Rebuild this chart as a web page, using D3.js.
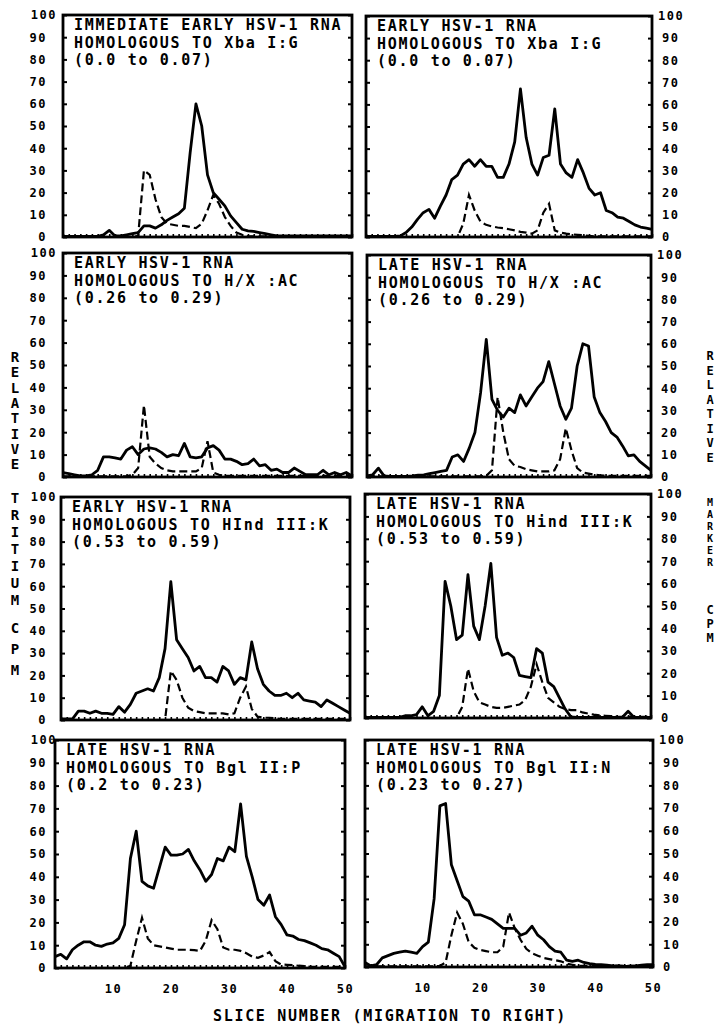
<!DOCTYPE html>
<html>
<head>
<meta charset="utf-8">
<script src="https://cdnjs.cloudflare.com/ajax/libs/d3/7.8.5/d3.min.js"></script>
<style>
  body { margin: 0; background: #fff; }
  text { font-family: "DejaVu Sans Mono", monospace; font-weight: bold; fill: #000; }
</style>
</head>
<body>
<svg id="chart" width="720" height="1030"></svg>
<script>
// slice numbers 0..50 and tick values
const slices = d3.range(0, 51);
const yTicks = d3.range(0, 101, 10);
const xTicks = [10, 20, 30, 40, 50];

// panel captions
const captions = [
    ["IMMEDIATE EARLY HSV-1 RNA", "HOMOLOGOUS TO Xba I:G", "(0.0 to 0.07)"],
    ["EARLY HSV-1 RNA", "HOMOLOGOUS TO Xba I:G", "(0.0 to 0.07)"],
    ["EARLY HSV-1 RNA", "HOMOLOGOUS TO H/X :AC", "(0.26 to 0.29)"],
    ["LATE HSV-1 RNA", "HOMOLOGOUS TO H/X :AC", "(0.26 to 0.29)"],
    ["EARLY HSV-1 RNA", "HOMOLOGOUS TO HInd III:K", "(0.53 to 0.59)"],
    ["LATE HSV-1 RNA", "HOMOLOGOUS TO Hind III:K", "(0.53 to 0.59)"],
    ["LATE HSV-1 RNA", "HOMOLOGOUS TO Bgl II:P", "(0.2 to 0.23)"],
    ["LATE HSV-1 RNA", "HOMOLOGOUS TO Bgl II:N", "(0.23 to 0.27)"]
];

// solid = tritium RNA, dashed = marker
const ieXbaRna = [0.3,0.3,0.3,0.3,0.3,0.3,0.3,1,3,0.5,0.5,1,1.5,2,5,5,4,5.5,7.5,9,10.5,13,38,60,50,28,20,17,14,9.5,6.5,3.5,2.8,2.5,2,1.5,1,0.5,0.5,0.5,0.5,0.5,0.5,0.5,0.5,0.5,0.5,0.5,0.5,0.5,0.5];
const ieXbaMarker = [0,0,0,0,0,0,0,0,0,0,0,0,0,0.5,30,28,17,9,6,5.5,5,5,4.5,4,6,12,19,15,9,5,2,1,0.3,0.3,0.3,0.3,0.3,0.3,0.3,0.3,0.3,0.3,0.3,0.3,0.3,0.3,0.3,0.3,0.3,0.3,0.3];

const eXbaRna = [0.3,0.3,0.3,0.3,0.3,0.3,0.5,2,4.5,8,11,12.5,8.5,14,19,26,28,33,35,32,35,32,32,27,27,33,43,67,45,33,28,36,37,58,33,29,27,35,29,22,19,20,12,11,9,8.5,7,5.5,4.5,4,3.5];
const eXbaMarker = [0,0,0,0,0,0,0,0,0,0,0,0,0,0,0,0,0,6,19,12,7,5.5,4.8,4.3,4,3.5,3,2.3,2,1.5,3,11,15,3,2,1.5,1.2,1,0.8,0.5,0.3,0.3,0.3,0.3,0.3,0.3,0.3,0.3,0.3,0.3,0.3];

const eHxRna = [2,1.5,1,0.5,0.5,1,3,9,9,8.5,8,12,13.5,10,12.5,13,12.5,11,9,10,9.5,15,9,8.5,9,13,14,12,8,8,7,5.5,6,8,5,5.5,3,3.5,2,2,4,2.5,1,1,1,3,1,2,1,2,0.5];
const eHxMarker = [0.3,0.3,0.3,0.3,0.3,0.3,0.3,0.3,0.3,0.3,0.3,0.3,1,4,32,9,6,4,3,2.5,2.5,2.5,2.5,2.5,4,16,2,1,0.5,0.5,0.5,0.5,0.5,0.5,0.5,0.5,0.5,0.5,0.5,0.5,0.5,0.5,0.5,0.5,0.5,0.5,0.5,0.5,0.5,0.5,0.5];

const lHxRna = [0.5,1,4,0.5,0.3,0.3,0.3,0.3,0.5,0.8,1,1.5,2,2.5,3,9,10,7,13,20,38,62,35,30,27,31,29,37,32,36,40,43,52,42,32,26,31,50,60,59,36,29,25,20,18,14,9.5,10,7,5,3];
const lHxMarker = [0.3,0.3,0.3,0.3,0.3,0.3,0.3,0.3,0.3,0.3,0.3,0.3,0.3,0.3,0.3,0.3,0.3,0.3,0.3,0.3,0.3,0.5,3,36,20,8,5,4.5,3.5,3,2.5,2.5,2.5,3,8,22,12,4,2,1.5,1,0.8,0.6,0.5,0.5,0.5,0.5,0.5,0.5,0.5,0.5];

const eHindRna = [0.5,0.5,0.5,4,4,3,4,3,3,2.5,6,3.5,7,12,13,14,13,19,32,62,36,32,28,22,24,19,19,17,24,22,16,19,18,35,23,16,13,11,11,12,10,12,9,8.5,8,6,9,7.5,6,4.5,3];
const eHindMarker = [0,0,0,0,0,0,0,0,0,0,0,0,0,0,0,0,0,0,0,22,18,10,5.5,4,3.5,3,3,3,3,2.5,3,10,15,5,1.5,1,1,0.8,0.5,0.5,0.5,0.5,0.5,0.5,0.5,0.5,0.5,0.5,0.5,0.5,0.5];

const lHindRna = [0.3,0.3,0.3,0.3,0.3,0.3,0.3,1,1,1.5,5,1,3,10,61,50,35,37,64,41,35,50,69,36,28,29,27,19,18.5,18,31,29,16,14,9,4,0.5,0.3,0.3,0.3,0.3,0.3,0.3,0.3,0.3,0.3,3,0.3,0.3,0.3,0.3];
const lHindMarker = [0,0,0,0,0,0,0,0,0,0,0,0,0,0,0,0,0,5,22,12,7,6,5,4.5,4.5,5,5.5,6,8,14,24,16,9,7,5,4,3.5,3.5,2.5,2,1.5,1.2,1,0.8,0.6,0.5,0.5,0.5,0.5,0.5,0.5];

const lBglPRna = [5,6,4,8,10,11.5,11.5,10,9.5,10.5,11,13,19,48,60,38,36,35,44,53,49.5,49.5,50,52,47,43,38,41,48,47,53,51,72,49,40,30,27.5,32,22.5,19,14.5,14,12.5,12,11,10,8.5,8,6.5,5,0.5];
const lBglPMarker = [0,0,0,0,0,0,0,0,0,0,0,0,0,1,12,22,13,10,9.5,9,8.5,8,8,8,7.8,7.5,12,21,17,9,8,8,7.5,6.5,5,4.5,5.5,7,3,1.5,1.4,1.3,1,0.8,0.5,0.5,0.5,0.5,0.5,0.5,0.5];

const lBglNRna = [2,0.5,1,4,5,6,6.5,7,6.5,6,9,11,30,71,72,45,38,31,29,23,23,22,21,19,17,17,17,14,15,18,14,12,9,7,6.5,3,2.5,3,2,1.5,1.2,1,0.8,0.5,0.5,0.3,0.3,0.5,0.8,1,1];
const lBglNMarker = [0.3,0.3,0.3,0.3,0.3,0.3,0.3,0.3,0.3,0.3,0.3,0.3,0.3,0.5,2,14,24,19,11,8.5,7.5,7,6.5,6.5,9,24,17,12,8,6,5,4,3.5,3,2.5,1.5,1,0.5,0.5,0.5,0.5,0.5,0.5,0.5,0.5,0.5,0.5,0.5,0.5,0.5,0.5];

// panel boxes (the scan is slightly skewed, so each box has its own edges)
const panels = [
    { x0: 63,  x1: 352, y0: 15,  y1: 237, side: "left",  rna: ieXbaRna, marker: ieXbaMarker, cap: captions[0] },
    { x0: 366, x1: 652, y0: 16,  y1: 237, side: "right", rna: eXbaRna,  marker: eXbaMarker,  cap: captions[1] },
    { x0: 63,  x1: 352, y0: 253, y1: 477, side: "left",  rna: eHxRna,   marker: eHxMarker,   cap: captions[2] },
    { x0: 367, x1: 651, y0: 255, y1: 477, side: "right", rna: lHxRna,   marker: lHxMarker,   cap: captions[3] },
    { x0: 61,  x1: 350, y0: 497, y1: 720, side: "left",  rna: eHindRna, marker: eHindMarker, cap: captions[4] },
    { x0: 365, x1: 651, y0: 494, y1: 718, side: "right", rna: lHindRna, marker: lHindMarker, cap: captions[5] },
    { x0: 55,  x1: 345, y0: 740, y1: 968, side: "left",  rna: lBglPRna, marker: lBglPMarker, cap: captions[6], xLabels: true },
    { x0: 365, x1: 653, y0: 740, y1: 967, side: "right", rna: lBglNRna, marker: lBglNMarker, cap: captions[7], xLabels: true }
];

const svg = d3.select("#chart");

function styleAxis(g, size) {
    g.select(".domain").remove();
    g.selectAll("line").attr("stroke", "#000").attr("stroke-width", 2);
    g.selectAll("text")
        .attr("font-family", null)
        .style("font-size", size + "px")
        .style("letter-spacing", "1.5px");
}

panels.forEach(p => {
    const x = d3.scaleLinear().domain([0, 50]).range([p.x0, p.x1]);
    const y = d3.scaleLinear().domain([0, 100]).range([p.y1, p.y0]);
    const g = svg.append("g");

    // small inward ticks on both vertical sides, labels on the outer side
    const leftAxis = d3.axisLeft(y).tickValues(yTicks).tickSizeInner(-4).tickSizeOuter(0)
        .tickPadding(p.x0 - 47);
    const rightAxis = d3.axisRight(y).tickValues(yTicks).tickSizeInner(-4).tickSizeOuter(0)
        .tickPadding(10);
    if (p.side === "left") rightAxis.tickFormat("");
    else leftAxis.tickFormat("");

    g.append("g").attr("transform", `translate(${p.x0},0)`).call(leftAxis)
        .call(a => styleAxis(a, 12))
        .call(a => a.selectAll("text").filter(d => d === 100).attr("dx", 10));
    g.append("g").attr("transform", `translate(${p.x1},0)`).call(rightAxis)
        .call(a => styleAxis(a, 12))
        .call(a => a.selectAll("text").filter(d => d === 100).attr("dx", -4));

    // dotted look of the bottom edge: one tick per slice
    g.append("g").attr("transform", `translate(0,${p.y1})`)
        .call(d3.axisBottom(x).tickValues(slices).tickSizeInner(-3).tickSizeOuter(0).tickFormat(""))
        .call(a => { a.select(".domain").remove(); a.selectAll("line").attr("stroke-width", 1.6); });

    if (p.xLabels) {
        g.append("g").attr("transform", `translate(0,${p.y1})`)
            .call(d3.axisBottom(x).tickValues(xTicks).tickSize(0).tickPadding(16))
            .call(a => styleAxis(a, 12));
    }

    g.append("rect")
        .attr("x", p.x0).attr("y", p.y0)
        .attr("width", p.x1 - p.x0).attr("height", p.y1 - p.y0)
        .attr("fill", "none").attr("stroke", "#000").attr("stroke-width", 2.8);

    const line = d3.line().x((d, i) => x(slices[i])).y(d => y(d));

    g.append("path").datum(p.marker)
        .attr("d", line)
        .attr("fill", "none").attr("stroke", "#000")
        .attr("stroke-width", 2.2).attr("stroke-dasharray", "8,4");

    g.append("path").datum(p.rna)
        .attr("d", line)
        .attr("fill", "none").attr("stroke", "#000")
        .attr("stroke-width", 2.8).attr("stroke-linejoin", "round");

    p.cap.forEach((t, i) => {
        g.append("text")
            .attr("x", p.x0 + 11)
            .attr("y", p.y0 + 15 + i * 17.5)
            .style("font-size", "15px")
            .style("letter-spacing", "1.7px")
            .text(t);
    });
});

// vertical stacked axis titles
function stackWord(word, cx, yStart, step, size) {
    word.split("").forEach((c, i) => {
        svg.append("text")
            .attr("x", cx).attr("y", yStart + i * step)
            .attr("text-anchor", "middle")
            .style("font-size", size + "px")
            .text(c);
    });
}
stackWord("RELATIVE", 15, 362, 15.3, 14);
stackWord("TRITIUM", 15, 503, 17, 14);
stackWord("CPM", 15, 633, 21, 14);
stackWord("RELATIVE", 710, 360, 14.5, 12);
stackWord("MARKER", 710, 506, 12, 10);
stackWord("CPM", 710, 614, 14, 12);

svg.append("text")
    .attr("x", 390).attr("y", 1021)
    .attr("text-anchor", "middle")
    .style("font-size", "15px")
    .style("letter-spacing", "1.7px")
    .text("SLICE NUMBER (MIGRATION TO RIGHT)");
</script>
</body>
</html>
